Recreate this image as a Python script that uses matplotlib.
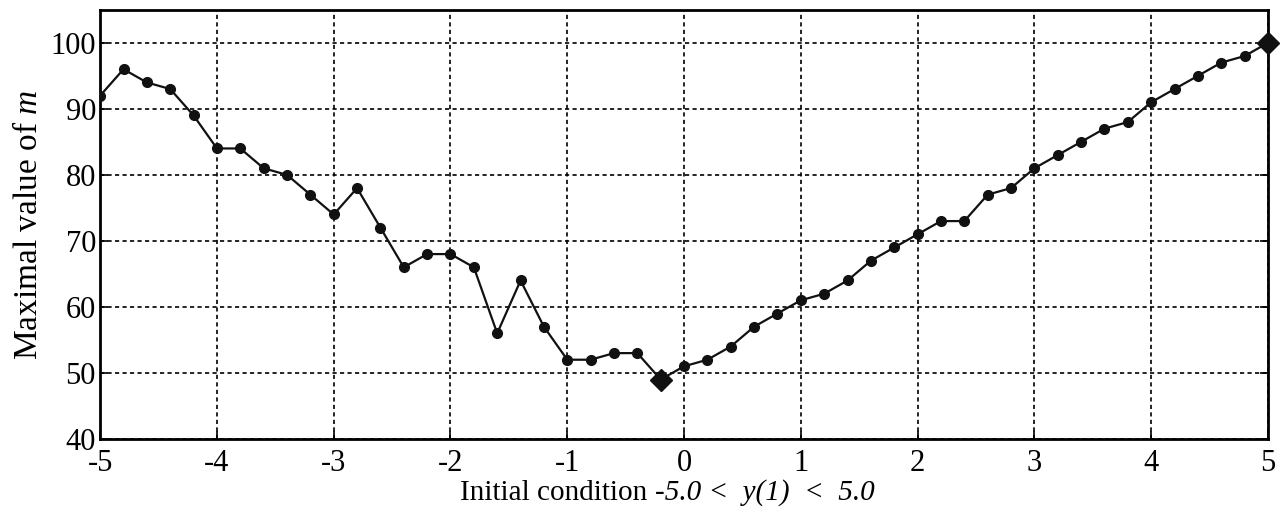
import numpy as np
import matplotlib
matplotlib.use("Agg")
import matplotlib.pyplot as plt

plt.rcParams['font.family'] = ['Liberation Serif']
plt.rcParams['mathtext.fontset'] = 'custom'
plt.rcParams['mathtext.rm'] = 'Liberation Serif'
plt.rcParams['mathtext.it'] = 'Liberation Serif:italic'
plt.rcParams['axes.unicode_minus'] = False

# initial condition y(1) and maximal value of m
y1 = [-5.0, -4.8, -4.6, -4.4, -4.2, -4.0, -3.8, -3.6, -3.4, -3.2,
      -3.0, -2.8, -2.6, -2.4, -2.2, -2.0, -1.8, -1.6, -1.4, -1.2,
      -1.0, -0.8, -0.6, -0.4, -0.2, 0.0, 0.2, 0.4, 0.6, 0.8,
      1.0, 1.2, 1.4, 1.6, 1.8, 2.0, 2.2, 2.4, 2.6, 2.8,
      3.0, 3.2, 3.4, 3.6, 3.8, 4.0, 4.2, 4.4, 4.6, 4.8, 5.0]
m_max = [92, 96, 94, 93, 89, 84, 84, 81, 80, 77,
         74, 78, 72, 66, 68, 68, 66, 56, 64, 57,
         52, 52, 53, 53, 49, 51, 52, 54, 57, 59,
         61, 62, 64, 67, 69, 71, 73, 73, 77, 78,
         81, 83, 85, 87, 88, 91, 93, 95, 97, 98, 100]
# highlighted points (minimum and maximum)
hl_x = [-0.2, 5.0]
hl_y = [49, 100]

fig = plt.figure(figsize=(12.84, 5.17), dpi=100)
ax = fig.add_axes([0.078, 0.151, 0.9095, 0.83])

ax.plot(y1, m_max, color='#111111', lw=1.6, marker='o', ms=7, zorder=3)
ax.plot(hl_x, hl_y, ls='none', marker='D', ms=11, color='#111111', zorder=4, clip_on=False)

ax.set_xlim(-5, 5)
ax.set_ylim(40, 105)
ax.set_xticks(range(-5, 6))
ax.set_yticks(range(40, 101, 10))
ax.grid(True, color='black', ls=(0, (2.5, 2)), lw=1.2)
ax.tick_params(direction='in', length=6, width=1.2, labelsize=22,
               right=True, top=False)
ax.tick_params(axis='x', pad=7)
ax.tick_params(axis='y', pad=3)
for s in ax.spines.values():
    s.set_linewidth(2)

# x label: plain part + italic part
t1 = ax.text(0.475, -0.142, "Initial condition ", transform=ax.transAxes,
             fontsize=21, ha='right', va='baseline')
ax.annotate("-5.0 <  y(1)  <  5.0", xy=(1, 0), xycoords=t1, fontsize=21,
            fontstyle='italic', ha='left', va='bottom')

ax.set_ylabel(r"Maximal value of $\mathit{m}$", fontsize=24, labelpad=5)

fig.savefig("out.png", dpi=100)
